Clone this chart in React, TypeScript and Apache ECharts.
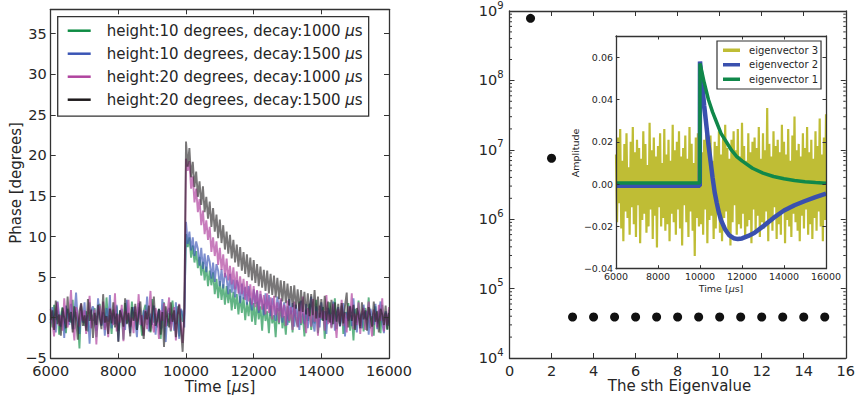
import React, { useEffect, useRef } from "react";
import * as echarts from "echarts";

// ---------- sampling grid of the left panel and of eigenvector 3 ----------
const T_START = 6000;
const T_STEP = 50;
const N_SAMPLES = 201;
const TIME = Array.from({ length: N_SAMPLES }, (_, i) => T_START + i * T_STEP);

// ---------- left panel: phase traces (degrees) ----------
const SERIES_NAMES = [
  "height:10 degrees, decay:1000 μs",
  "height:10 degrees, decay:1500 μs",
  "height:20 degrees, decay:1000 μs",
  "height:20 degrees, decay:1500 μs",
];

const PHASE_H10_D1000 = [
  0.4,-1.2,1.6,-0.3,0.9,-2.1,0.2,1.3,-0.8,-1.9,
  1.1,0.3,-0.6,2.2,-1.4,0.7,-0.2,-3.8,1.5,0.1,
  -1.0,0.8,-1.7,1.9,0.5,-0.4,1.2,-2.4,0.0,1.7,
  -0.9,0.6,-1.3,2.5,-0.5,0.3,-2.0,1.0,-0.1,1.4,
  -1.6,0.9,0.2,-2.7,1.8,-0.7,0.4,-1.1,2.0,-0.3,
  0.7,-1.5,1.3,-0.2,-2.2,0.8,1.6,-0.9,0.1,-1.8,
  2.3,-0.6,0.5,-1.2,1.1,-2.6,0.3,1.9,-0.4,-1.0,
  0.6,-1.7,2.1,0.0,-0.8,1.4,-2.3,0.9,-0.5,1.2,
  10.3,8.7,9.9,7.4,8.9,6.8,8.2,6.1,7.5,5.2,
  6.9,4.6,6.3,3.9,5.8,4.0,5.6,2.9,4.8,2.4,
  4.5,2.2,4.1,1.6,3.9,1.8,3.5,0.9,3.2,1.1,
  2.9,0.4,2.7,0.6,2.5,-0.3,1.9,0.2,2.4,-0.5,
  1.8,-0.9,2.0,-0.2,1.4,-1.6,1.7,-0.4,0.8,-1.9,
  1.5,-0.7,0.3,-2.4,1.2,-0.8,1.9,-1.3,0.2,-2.1,
  1.4,-0.6,0.9,-1.8,1.6,-0.2,-1.1,2.0,-0.9,0.5,
  -2.3,1.0,-0.4,1.7,-1.5,0.3,-0.7,2.2,-1.9,0.6,
  -0.3,1.3,-2.6,0.8,-0.5,1.9,-1.2,0.1,2.4,-1.4,
  0.4,-0.8,1.5,-2.0,0.7,-0.1,1.8,-1.6,0.3,-2.8,
  1.1,-0.6,2.1,-1.0,0.5,-1.7,1.2,-0.3,2.5,-1.3,
  0.2,-2.2,1.4,-0.7,0.9,-1.9,1.6,-0.4,0.6,-1.5,
  1.0,
];

const PHASE_H10_D1500 = [
  -0.7,1.3,-0.2,-1.8,2.0,0.4,-1.1,0.8,-2.5,1.5,
  0.2,-0.9,1.7,-1.4,0.6,3.1,-0.3,-2.0,1.0,-0.6,
  1.9,-1.2,0.3,-3.2,0.9,1.4,-0.5,-1.6,2.4,0.1,
  -1.0,0.7,-2.2,1.2,-0.4,2.8,-1.3,0.5,-0.8,1.6,
  -2.9,0.4,1.1,-0.7,-1.5,2.2,0.0,-1.9,0.8,1.3,
  -0.6,-2.4,1.8,0.3,-1.0,0.9,-0.2,2.6,-1.7,0.5,
  -0.9,1.5,-2.1,0.2,1.0,-1.4,2.3,-0.5,-3.0,0.7,
  1.2,-0.8,0.4,-1.6,1.9,-0.3,-2.6,1.1,0.6,-1.2,
  11.8,9.1,10.6,8.3,9.9,7.6,9.4,8.5,6.4,8.6,
  6.0,7.9,5.6,7.7,6.9,4.8,6.8,4.4,6.6,5.8,
  3.9,6.0,3.6,5.5,4.9,2.9,5.4,3.1,4.7,2.5,
  4.6,3.9,1.8,4.2,2.3,3.8,1.6,3.9,2.2,0.9,
  3.5,1.7,3.3,0.6,2.9,1.9,0.3,3.0,1.1,2.8,
  0.2,2.4,1.5,-0.4,2.6,0.8,2.2,-0.6,1.9,0.7,
  -0.9,2.3,0.4,1.8,-1.1,1.6,0.2,-1.5,2.1,0.6,
  -0.8,1.7,-1.3,0.9,2.6,-0.5,-1.7,1.4,0.1,-1.2,
  1.9,-0.3,0.8,-2.0,1.2,0.4,-0.9,2.0,-1.6,0.5,
  1.3,-1.1,0.0,1.8,-2.3,0.7,-0.4,1.5,-1.0,2.4,
  -0.6,-1.8,0.9,0.2,-1.3,1.6,-0.2,0.8,-2.1,1.1,
  0.3,-0.9,1.7,-1.4,0.6,2.0,-0.7,-1.9,0.8,0.1,
  -1.0,
];

const PHASE_H20_D1000 = [
  1.1,-0.5,-2.3,0.8,1.9,-1.0,0.3,-1.6,2.4,-0.2,
  -1.2,0.6,3.4,-0.7,-2.8,1.3,0.2,-1.1,1.7,-0.4,
  0.9,-2.0,0.5,2.7,-1.3,-0.1,1.0,-3.3,0.7,1.5,
  -0.8,2.0,-1.5,0.1,-2.4,1.2,0.6,-0.9,3.0,-1.7,
  0.4,-0.6,1.6,-2.9,0.8,-0.3,2.2,-1.2,0.0,-1.9,
  1.4,-0.5,2.9,-0.9,0.3,-2.2,1.0,-1.4,0.6,3.3,
  -0.7,-1.8,1.2,0.2,-2.6,0.9,-0.4,1.8,-1.1,0.5,
  2.5,-1.6,-0.2,1.3,-2.8,0.4,1.7,-0.9,-3.1,0.8,
  19.6,18.1,19.3,15.9,17.4,14.2,15.9,13.0,14.6,11.4,
  13.2,10.3,12.0,9.6,11.2,8.1,9.9,7.6,9.4,6.5,
  8.6,5.9,7.8,5.0,7.3,4.6,6.4,4.1,6.2,3.5,
  5.7,3.0,5.1,2.9,4.8,2.2,4.5,2.0,4.1,1.6,
  3.9,1.3,3.4,0.9,3.3,1.0,2.8,0.4,3.0,0.6,
  2.5,-0.2,2.7,0.3,1.9,-0.6,2.4,0.0,1.6,-1.0,
  2.1,-0.4,1.3,-1.5,2.0,0.1,-1.2,1.8,-0.7,2.6,
  -0.3,-1.9,1.2,0.3,-1.1,2.3,-0.5,0.8,-2.2,1.5,
  -0.1,0.9,-1.6,2.8,-0.8,0.4,-1.3,1.7,0.0,-2.5,
  1.1,-0.6,2.2,-1.0,0.6,-1.8,1.4,-0.2,3.0,-1.4,
  0.5,-0.9,1.9,-2.0,0.7,1.2,-1.5,0.2,2.0,-0.7,
  -2.3,1.0,0.3,-1.2,1.6,-0.4,2.4,-1.7,0.5,-0.9,
  1.3,
];

const PHASE_H20_D1500 = [
  -0.3,0.9,-1.5,2.1,-0.8,0.4,-2.2,1.2,0.0,-1.3,
  2.6,-0.5,0.7,-1.8,1.4,-0.2,-2.7,0.8,1.8,-1.0,
  0.3,-1.6,2.3,-0.4,1.0,-2.5,0.6,-0.9,1.6,-0.1,
  -1.4,2.9,-0.6,0.2,-2.0,1.1,-0.7,1.9,-1.2,0.5,
  -3.0,0.9,0.1,-1.1,2.4,-0.8,0.6,-2.3,1.3,-0.4,
  1.7,-1.5,0.3,2.0,-0.9,-2.6,0.8,-0.2,1.5,-1.7,
  0.4,2.6,-1.0,-0.3,1.1,-2.1,0.7,-3.6,1.4,0.0,
  -1.2,1.9,-0.5,0.9,-2.4,0.3,1.6,-1.4,-4.2,0.5,
  21.7,18.6,20.9,17.3,19.2,16.1,18.0,14.9,16.8,13.9,
  16.2,13.0,14.9,12.2,14.3,11.2,13.5,10.6,12.7,9.8,
  12.1,9.2,11.4,8.4,10.6,7.9,10.2,7.3,9.6,6.8,
  9.0,6.3,8.7,5.8,8.1,5.4,7.8,5.0,7.4,4.6,
  7.1,4.3,6.6,3.9,6.3,3.7,5.9,3.3,5.8,3.0,
  5.4,2.8,5.2,2.5,4.9,2.3,4.6,2.0,4.5,1.8,
  4.2,1.5,3.9,1.3,4.0,1.1,3.5,0.8,3.4,0.7,
  3.2,0.4,3.0,0.2,2.9,0.3,3.4,-0.1,2.6,0.0,
  2.3,-0.4,2.7,-0.3,2.0,-0.6,2.2,-0.8,1.9,-0.5,
  1.7,-1.0,1.8,-0.7,1.5,3.1,-1.2,1.4,-0.4,1.6,
  -1.5,1.2,0.3,-1.3,1.9,-0.2,0.9,-1.6,1.3,0.2,
  -1.1,2.0,-0.5,0.8,-1.8,1.1,0.4,-0.9,1.5,-1.4,
  0.6,
];

const PHASE_SERIES = [PHASE_H10_D1000, PHASE_H10_D1500, PHASE_H20_D1000, PHASE_H20_D1500];

// ---------- right panel: eigenvalues ----------
const EIG_INDEX = [1, 2, 3, 4, 5, 6, 7, 8, 9, 10, 11, 12, 13, 14, 15];
const EIG_VALUE = [7.85e8, 7.55e6, 3.9e4, 3.9e4, 3.9e4, 3.9e4, 3.9e4, 3.9e4, 3.9e4, 3.9e4, 3.9e4, 3.9e4, 3.9e4, 3.9e4, 3.9e4];

// ---------- inset: eigenvectors ----------
const EV_NAMES = ["eigenvector 3", "eigenvector 2", "eigenvector 1"];

const EIGENVECTOR_3 = [
  0.014,-0.018,0.022,-0.009,0.026,-0.021,0.011,-0.027,0.019,-0.013,0.024,-0.016,0.008,-0.024,0.020,-0.011,0.027,-0.019,0.015,-0.025,
  0.021,-0.010,0.017,-0.028,0.012,-0.017,0.025,-0.014,0.019,-0.023,0.009,-0.020,0.029,-0.012,0.016,-0.026,0.022,-0.015,0.013,-0.030,
  0.018,-0.011,0.024,-0.020,0.010,-0.016,0.026,-0.022,0.014,-0.019,0.021,-0.027,0.011,-0.014,0.028,-0.018,0.016,-0.024,0.020,-0.012,
  0.025,-0.021,0.013,-0.029,0.017,-0.010,0.023,-0.018,0.012,-0.025,0.027,-0.013,0.019,-0.022,0.010,-0.034,0.022,-0.016,0.024,-0.020,
  0.030,-0.019,0.015,-0.024,0.021,-0.012,0.026,-0.028,0.016,-0.017,0.023,-0.015,0.011,-0.026,0.020,-0.021,0.018,-0.011,0.025,-0.023,
  0.014,-0.027,0.022,-0.016,0.028,-0.013,0.017,-0.022,0.012,-0.029,0.021,-0.018,0.025,-0.010,0.016,-0.024,0.026,-0.019,0.013,-0.021,
  0.029,-0.014,0.018,-0.026,0.011,-0.020,0.024,-0.017,0.015,-0.028,0.020,-0.012,0.022,-0.023,0.017,-0.015,0.027,-0.025,0.012,-0.018,
  0.024,-0.021,0.016,-0.013,0.036,-0.027,0.019,-0.016,0.013,-0.022,0.025,-0.011,0.018,-0.026,0.021,-0.019,0.015,-0.024,0.028,-0.012,
  0.020,-0.028,0.014,-0.017,0.026,-0.020,0.011,-0.025,0.023,-0.014,0.032,-0.018,0.016,-0.022,0.019,-0.027,0.013,-0.015,0.024,-0.021,
  0.017,-0.012,0.027,-0.024,0.015,-0.019,0.021,-0.026,0.012,-0.016,0.025,-0.022,0.018,-0.013,0.031,-0.020,0.014,-0.027,0.022,-0.017,
  0.033,
];

const EV2_TIME = [6000, 9990, 10000, 10100, 10200, 10300, 10400, 10500, 10600, 10700, 10800, 10900, 11000, 11200, 11400, 11600, 11800, 12000, 12300, 12600, 13000, 13500, 14000, 14500, 15000, 15500, 16000];
const EIGENVECTOR_2 = [-0.0008, -0.0008, 0.058, 0.047, 0.037, 0.028, 0.019, 0.011, 0.003, -0.004, -0.009, -0.0135, -0.017, -0.0215, -0.0243, -0.0256, -0.026, -0.0257, -0.0245, -0.023, -0.020, -0.016, -0.0125, -0.010, -0.008, -0.0062, -0.0045];

const EV1_TIME = [6000, 9990, 10000, 10200, 10400, 10600, 10800, 11000, 11250, 11500, 11750, 12000, 12500, 13000, 13500, 14000, 14500, 15000, 15500, 16000];
const EIGENVECTOR_1 = [0.0005, 0.0005, 0.057, 0.048, 0.040, 0.034, 0.029, 0.024, 0.020, 0.016, 0.013, 0.011, 0.0075, 0.0052, 0.0036, 0.0025, 0.0017, 0.0011, 0.0007, 0.0004];

// ---------- styling ----------
const FONT = "DejaVu Sans";
const TXT = "#262626";
const AX = "#333333";
const TRACE_COLORS = ["#0e8c44", "#3a55b5", "#b0449f", "#1e1a1c"];
const TRACE_OPACITY = [0.65, 0.65, 0.7, 0.6];
const TRACE_WIDTH = 1.9;
const EV_COLORS = ["#bfbd35", "#3a50ae", "#10884a"];
const EV_WIDTHS = [2.2, 4.5, 3.5];
const TICK_FONT = 14.5;
const TITLE_FONT = 15;
const INSET_FONT = 9.5;

const minus = (v: number, digits?: number) => {
  const s = digits === undefined ? String(Math.abs(v)) : Math.abs(v).toFixed(digits);
  return (v < -1e-12 ? "\u2212" : "") + s;
};

function frameAxis(extra: any, labels: boolean, fontSize: number, tickLen: number, margin: number) {
  return {
    type: "value",
    z: 5,
    axisLine: { show: true, onZero: false, lineStyle: { color: AX, width: 1.3 } },
    axisTick: { show: true, inside: true, length: tickLen, lineStyle: { color: AX, width: 1 } },
    splitLine: { show: false },
    axisLabel: labels
      ? { show: true, fontFamily: FONT, fontSize, color: TXT, margin, formatter: (v: number) => String(v) }
      : { show: false },
    ...extra,
  };
}

export default function App() {
  const ref = useRef<HTMLDivElement>(null);

  useEffect(() => {
    if (!ref.current) return;
    const chart = echarts.init(ref.current, null, { renderer: "svg" });

    const minorTicks: number[][] = [];
    for (let e = 4; e < 9; e++) {
      for (let m = 2; m <= 9; m++) minorTicks.push([0, m * Math.pow(10, e)]);
    }

    const logLabel = {
      show: true,
      margin: 6,
      formatter: (v: number) => `{b|10}{s|${Math.round(Math.log10(v))}}`,
      rich: {
        b: { fontFamily: FONT, fontSize: TICK_FONT, lineHeight: 22, color: TXT },
        s: { fontFamily: FONT, fontSize: 10, lineHeight: 14, verticalAlign: "top", color: TXT },
      },
    };

    const muRich = (size: number) => ({
      mu: { fontFamily: FONT, fontStyle: "italic", fontSize: size, color: TXT, fill: TXT },
    });

    const option: any = {
      animation: false,
      backgroundColor: "#ffffff",
      textStyle: { fontFamily: FONT },
      grid: [
        { left: 50.7, top: 9.3, width: 338.3, height: 349, containLabel: false },
        { left: 509.5, top: 11, width: 338.3, height: 347, containLabel: false },
        { left: 616, top: 36, width: 210, height: 232.7, containLabel: false, show: true, backgroundColor: "#ffffff", borderWidth: 0, z: 3 },
      ],
      xAxis: [
        frameAxis({ gridIndex: 0, min: 6000, max: 16000, interval: 2000, position: "bottom" }, true, TICK_FONT, 5, 5),
        frameAxis({ gridIndex: 0, min: 6000, max: 16000, interval: 2000, position: "top" }, false, TICK_FONT, 5, 5),
        frameAxis({ gridIndex: 1, min: 0, max: 16, interval: 2, position: "bottom" }, true, TICK_FONT, 5, 5),
        frameAxis({ gridIndex: 1, min: 0, max: 16, interval: 2, position: "top" }, false, TICK_FONT, 5, 5),
        frameAxis({ gridIndex: 2, min: 6000, max: 16000, interval: 2000, position: "bottom" }, true, INSET_FONT, 3.5, 3),
        frameAxis({ gridIndex: 2, min: 6000, max: 16000, interval: 2000, position: "top" }, false, INSET_FONT, 3.5, 3),
      ],
      yAxis: [
        {
          ...frameAxis({ gridIndex: 0, min: -5, max: 38, interval: 5, position: "left" }, true, TICK_FONT, 5, 4),
          axisLabel: { show: true, fontFamily: FONT, fontSize: TICK_FONT, color: TXT, margin: 4, showMaxLabel: false, formatter: (v: number) => minus(v) },
        },
        frameAxis({ gridIndex: 0, min: -5, max: 38, interval: 5, position: "right" }, false, TICK_FONT, 5, 4),
        {
          ...frameAxis({ gridIndex: 1, min: 1e4, max: 1e9, position: "left" }, true, TICK_FONT, 5, 6),
          type: "log",
          logBase: 10,
          splitNumber: 5,
          axisLabel: logLabel,
        },
        {
          ...frameAxis({ gridIndex: 1, min: 1e4, max: 1e9, position: "right" }, false, TICK_FONT, 5, 6),
          type: "log",
          logBase: 10,
          splitNumber: 5,
        },
        {
          ...frameAxis({ gridIndex: 2, min: -0.04, max: 0.07, interval: 0.02, position: "left" }, true, INSET_FONT, 3.5, 3),
          axisLabel: { show: true, fontFamily: FONT, fontSize: INSET_FONT, color: TXT, margin: 3, showMaxLabel: false, formatter: (v: number) => minus(v, 2) },
        },
        frameAxis({ gridIndex: 2, min: -0.04, max: 0.07, interval: 0.02, position: "right" }, false, INSET_FONT, 3.5, 3),
      ],
      legend: [
        {
          data: SERIES_NAMES.map((n, i) => ({ name: n, itemStyle: { color: TRACE_COLORS[i], opacity: 1 } })),
          selectedMode: false,
          orient: "vertical",
          left: 57.7,
          top: 16.7,
          icon: "rect",
          itemWidth: 23,
          itemHeight: 2.5,
          itemGap: 6,
          padding: [5.5, 6, 8, 10],
          borderColor: AX,
          borderWidth: 1.3,
          borderRadius: 0,
          backgroundColor: "#ffffff",
          formatter: (n: string) => n.replace("μ", "{mu|μ}"),
          textStyle: { fontFamily: FONT, fontSize: TITLE_FONT, color: TXT, lineHeight: 17, padding: [0, 0, 0, 11], rich: muRich(TITLE_FONT) },
        },
        {
          data: EV_NAMES.map((n, i) => ({ name: n, itemStyle: { color: EV_COLORS[i], opacity: 1 } })),
          selectedMode: false,
          orient: "vertical",
          left: 717,
          top: 41,
          icon: "rect",
          itemWidth: 17,
          itemHeight: 3.5,
          itemGap: 3,
          padding: [3.5, 3, 4, 6],
          borderColor: AX,
          borderWidth: 1.2,
          backgroundColor: "#ffffff",
          z: 8,
          textStyle: { fontFamily: FONT, fontSize: 10, color: TXT, lineHeight: 11.5, padding: [0, 0, 0, 4] },
        },
      ],
      series: [
        ...PHASE_SERIES.map((vals, i) => ({
          name: SERIES_NAMES[i],
          type: "line",
          xAxisIndex: 0,
          yAxisIndex: 0,
          showSymbol: false,
          symbol: "none",
          silent: true,
          color: TRACE_COLORS[i],
          itemStyle: { color: TRACE_COLORS[i] },
          lineStyle: { color: TRACE_COLORS[i], width: TRACE_WIDTH, opacity: TRACE_OPACITY[i], join: "bevel" },
          data: TIME.map((t, k) => [t, vals[k]]),
        })),
        {
          name: "eigenvalues",
          type: "scatter",
          xAxisIndex: 2,
          yAxisIndex: 2,
          symbol: "circle",
          symbolSize: 9,
          silent: true,
          itemStyle: { color: "#111111", opacity: 1 },
          data: EIG_INDEX.map((x, i) => [x, EIG_VALUE[i]]),
        },
        {
          name: "minor ticks",
          type: "custom",
          xAxisIndex: 2,
          yAxisIndex: 2,
          silent: true,
          clip: false,
          z: 6,
          data: minorTicks,
          renderItem: (_p: any, api: any) => {
            const v = api.value(1);
            const l = api.coord([0, v]);
            const r = api.coord([16, v]);
            return {
              type: "group",
              children: [
                { type: "line", shape: { x1: l[0], y1: l[1], x2: l[0] + 2.5, y2: l[1] }, style: { stroke: AX, lineWidth: 1 } },
                { type: "line", shape: { x1: r[0] - 2.5, y1: r[1], x2: r[0], y2: r[1] }, style: { stroke: AX, lineWidth: 1 } },
              ],
            };
          },
        },
        {
          name: EV_NAMES[0],
          type: "line",
          xAxisIndex: 4,
          yAxisIndex: 4,
          showSymbol: false,
          symbol: "none",
          silent: true,
          z: 4,
          color: EV_COLORS[0],
          itemStyle: { color: EV_COLORS[0] },
          lineStyle: { color: EV_COLORS[0], width: EV_WIDTHS[0], join: "bevel" },
          data: TIME.map((t, k) => [t, EIGENVECTOR_3[k]]),
        },
        {
          name: EV_NAMES[1],
          type: "line",
          xAxisIndex: 4,
          yAxisIndex: 4,
          showSymbol: false,
          symbol: "none",
          silent: true,
          z: 4,
          color: EV_COLORS[1],
          itemStyle: { color: EV_COLORS[1] },
          lineStyle: { color: EV_COLORS[1], width: EV_WIDTHS[1] },
          data: EV2_TIME.map((t, k) => [t, EIGENVECTOR_2[k]]),
        },
        {
          name: EV_NAMES[2],
          type: "line",
          xAxisIndex: 4,
          yAxisIndex: 4,
          showSymbol: false,
          symbol: "none",
          silent: true,
          z: 4,
          color: EV_COLORS[2],
          itemStyle: { color: EV_COLORS[2] },
          lineStyle: { color: EV_COLORS[2], width: EV_WIDTHS[2] },
          data: EV1_TIME.map((t, k) => [t, EIGENVECTOR_1[k]]),
        },
      ],
      graphic: [
        {
          type: "text",
          x: 16,
          y: 183,
          rotation: Math.PI / 2,
          style: { text: "Phase [degrees]", fontFamily: FONT, fontSize: TITLE_FONT, fill: TXT, align: "center", verticalAlign: "middle" },
        },
        {
          type: "text",
          x: 220,
          y: 387,
          style: { text: "Time [{mu|μ}s]", rich: muRich(TITLE_FONT), fontFamily: FONT, fontSize: TITLE_FONT, fill: TXT, align: "center", verticalAlign: "middle" },
        },
        {
          type: "text",
          x: 679.5,
          y: 386,
          style: { text: "The sth Eigenvalue", fontFamily: FONT, fontSize: TITLE_FONT, fill: TXT, align: "center", verticalAlign: "middle" },
        },
        {
          type: "text",
          x: 575,
          y: 153,
          rotation: Math.PI / 2,
          style: { text: "Amplitude", fontFamily: FONT, fontSize: INSET_FONT, fill: TXT, align: "center", verticalAlign: "middle" },
        },
        {
          type: "text",
          x: 721,
          y: 288,
          style: { text: "Time [{mu|μ}s]", rich: muRich(INSET_FONT), fontFamily: FONT, fontSize: INSET_FONT, fill: TXT, align: "center", verticalAlign: "middle" },
        },
      ],
    };

    chart.setOption(option);
    return () => chart.dispose();
  }, []);

  return (
    <div
      ref={ref}
      style={{ position: "fixed", left: 0, top: 0, width: 858, height: 403, background: "#fff" }}
    />
  );
}
